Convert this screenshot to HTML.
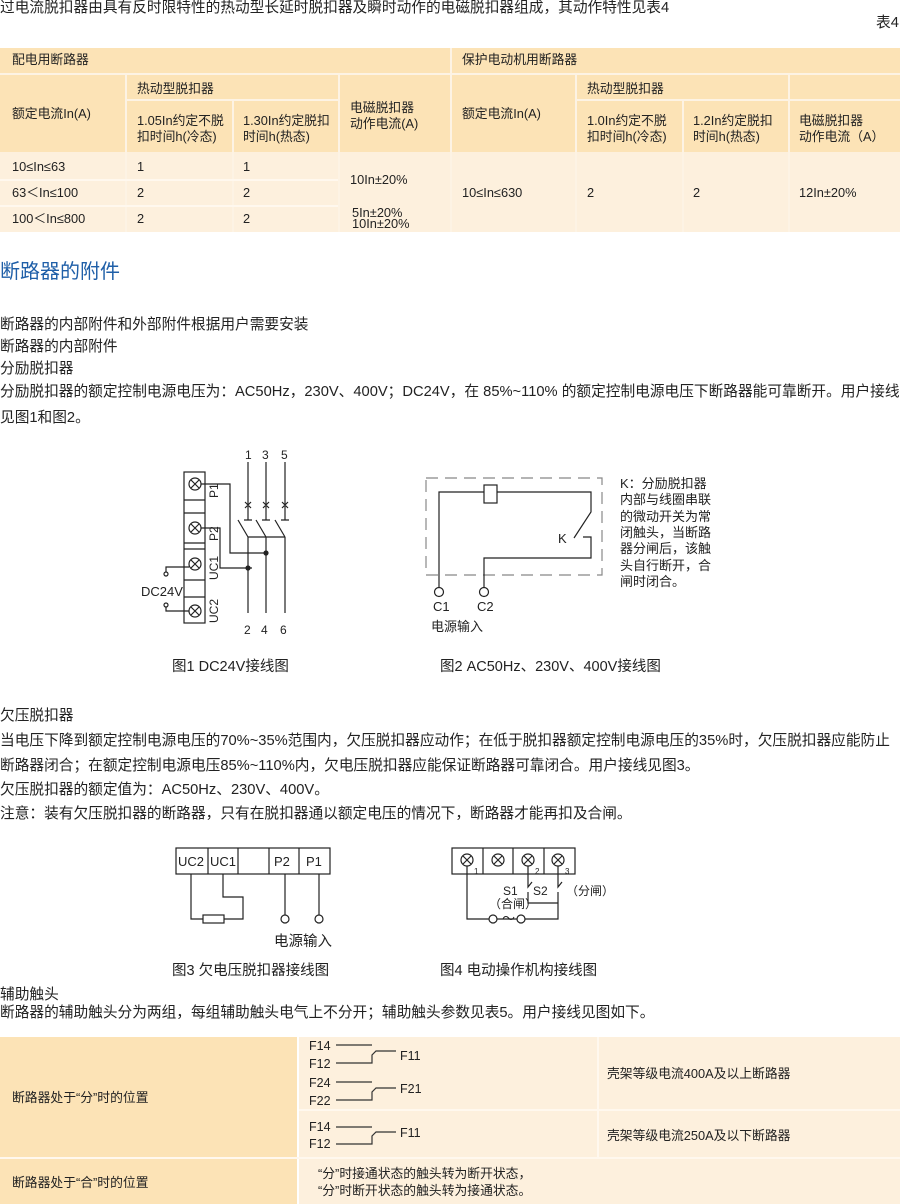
<!DOCTYPE html>
<html><head><meta charset="utf-8"><style>
*{margin:0;padding:0;box-sizing:border-box}
body{width:900px;height:1204px;background:#fff;position:relative;overflow:hidden;font-family:"Liberation Sans","Noto Sans CJK SC",sans-serif;color:#222}
.t{position:absolute;white-space:nowrap;font-size:14.7px;line-height:17px}
.s{font-size:12.8px;line-height:16px}
.b{position:absolute}
.h{background:#fce3b6}
.l{background:#fdf0dd}
</style></head><body>
<div class="t" style="left:0;top:0px">过电流脱扣器由具有反时限特性的热动型长延时脱扣器及瞬时动作的电磁脱扣器组成，其动作特性见表4</div>
<div class="t" style="left:876px;top:15px">表4</div>

<!-- top table -->
<div class="b h" style="left:0;top:48px;width:900px;height:104px"></div>
<div class="b l" style="left:0;top:152px;width:900px;height:80px"></div>
<div class="b" style="left:0;top:73px;width:900px;height:2px;background:#fdf3e4"></div>
<div class="b" style="left:450px;top:48px;width:2px;height:184px;background:#fdf3e4"></div>
<div class="b" style="left:125px;top:73px;width:2px;height:159px;background:#fdf3e4"></div>
<div class="b" style="left:338px;top:73px;width:2px;height:159px;background:#fdf3e4"></div>
<div class="b" style="left:232px;top:100px;width:2px;height:132px;background:#fdf3e4"></div>
<div class="b" style="left:127px;top:99px;width:211px;height:2px;background:#fdf3e4"></div>
<div class="b" style="left:575px;top:73px;width:2px;height:159px;background:#fdf3e4"></div>
<div class="b" style="left:788px;top:73px;width:2px;height:159px;background:#fdf3e4"></div>
<div class="b" style="left:682px;top:100px;width:2px;height:132px;background:#fdf3e4"></div>
<div class="b" style="left:577px;top:99px;width:323px;height:2px;background:#fdf3e4"></div>
<div class="b" style="left:0;top:179px;width:338px;height:2px;background:#fff8ee"></div>
<div class="b" style="left:0;top:205px;width:338px;height:2px;background:#fff8ee"></div>

<div class="t s" style="left:12px;top:52px">配电用断路器</div>
<div class="t s" style="left:462px;top:52px">保护电动机用断路器</div>
<div class="t s" style="left:12px;top:106px">额定电流In(A)</div>
<div class="t s" style="left:137px;top:81px">热动型脱扣器</div>
<div class="t s" style="left:137px;top:113px">1.05In约定不脱<br>扣时间h(冷态)</div>
<div class="t s" style="left:243px;top:113px">1.30In约定脱扣<br>时间h(热态)</div>
<div class="t s" style="left:350px;top:100px">电磁脱扣器<br>动作电流(A)</div>
<div class="t s" style="left:462px;top:106px">额定电流In(A)</div>
<div class="t s" style="left:587px;top:81px">热动型脱扣器</div>
<div class="t s" style="left:587px;top:113px">1.0In约定不脱<br>扣时间h(冷态)</div>
<div class="t s" style="left:693px;top:113px">1.2In约定脱扣<br>时间h(热态)</div>
<div class="t s" style="left:799px;top:113px">电磁脱扣器<br>动作电流（A）</div>
<div class="t s" style="left:12px;top:159px">10≤In≤63</div>
<div class="t s" style="left:137px;top:159px">1</div>
<div class="t s" style="left:243px;top:159px">1</div>
<div class="t s" style="left:12px;top:185px">63＜In≤100</div>
<div class="t s" style="left:137px;top:185px">2</div>
<div class="t s" style="left:243px;top:185px">2</div>
<div class="t s" style="left:12px;top:211px">100＜In≤800</div>
<div class="t s" style="left:137px;top:211px">2</div>
<div class="t s" style="left:243px;top:211px">2</div>
<div class="t s" style="left:350px;top:172px">10In±20%</div>
<div class="t s" style="left:352px;top:207px;line-height:11px">5In±20%<br>10In±20%</div>
<div class="t s" style="left:462px;top:185px">10≤In≤630</div>
<div class="t s" style="left:587px;top:185px">2</div>
<div class="t s" style="left:693px;top:185px">2</div>
<div class="t s" style="left:799px;top:185px">12In±20%</div>

<div class="t" style="left:0;top:261px;font-size:20px;line-height:22px;color:#1f5fa8">断路器的附件</div>
<div class="t" style="left:0;top:317px">断路器的内部附件和外部附件根据用户需要安装</div>
<div class="t" style="left:0;top:339px">断路器的内部附件</div>
<div class="t" style="left:0;top:361px">分励脱扣器</div>
<div class="t" style="left:0;top:384px">分励脱扣器的额定控制电源电压为：AC50Hz，230V、400V；DC24V，在 85%~110% 的额定控制电源电压下断路器能可靠断开。用户接线</div>
<div class="t" style="left:0;top:410px">见图1和图2。</div>

<svg class="b" style="left:0;top:0" width="900" height="1204" font-family="Liberation Sans, Noto Sans CJK SC, sans-serif" fill="none" stroke="#222" stroke-width="1.2">
<!-- fig1 -->
<rect x="184" y="472" width="21" height="151"/>
<line x1="184" y1="500" x2="205" y2="500"/><line x1="184" y1="513" x2="205" y2="513"/>
<line x1="184" y1="543" x2="205" y2="543"/><line x1="184" y1="549" x2="205" y2="549"/>
<line x1="184" y1="580" x2="205" y2="580"/><line x1="184" y1="597" x2="205" y2="597"/>
<g>
<circle cx="195" cy="484" r="6"/><path d="M191 480l8 8M199 480l-8 8"/>
<circle cx="195" cy="528" r="6"/><path d="M191 524l8 8M199 524l-8 8"/>
<circle cx="195" cy="564" r="6"/><path d="M191 560l8 8M199 560l-8 8"/>
<circle cx="195" cy="611" r="6"/><path d="M191 607l8 8M199 607l-8 8"/>
</g>
<g fill="#222" stroke="none" font-size="12">
<text transform="translate(218,498) rotate(-90)">P1</text>
<text transform="translate(218,541) rotate(-90)">P2</text>
<text transform="translate(218,580) rotate(-90)">UC1</text>
<text transform="translate(218,623) rotate(-90)">UC2</text>
<text x="245" y="459">1</text><text x="262" y="459">3</text><text x="281" y="459">5</text>
<text x="244" y="634">2</text><text x="261" y="634">4</text><text x="280" y="634">6</text>
<text x="141" y="596" font-size="13">DC24V</text>
</g>
<path d="M248 462v58M266 462v58M285 462v58"/>
<path d="M245 502l6 6M251 502l-6 6M263 502l6 6M269 502l-6 6M282 502l6 6M288 502l-6 6"/>
<path d="M244 520h8M262 520h8M281 520h8"/>
<path d="M238 520l10 17M256 520l10 17M275 520l10 17M248 537h37M248 537v76M266 537v76M285 537v76"/>
<path d="M201 484h29v69h36M201 528h19v40h32"/>
<circle cx="266" cy="553" r="2" fill="#222"/><circle cx="248" cy="568" r="2" fill="#222"/>
<circle cx="166" cy="574" r="2"/><circle cx="166" cy="605" r="2"/>
<path d="M166 572v-5h23M166 607v4h23"/>
<!-- fig2 -->
<rect x="426" y="478" width="176" height="97" stroke="#888" stroke-dasharray="12,7"/>
<rect x="484" y="485" width="13" height="18" fill="#fff"/>
<path d="M439 588v-96h45M497 492h94v20l-17 26M583 537h8v21h-107v30"/>
<circle cx="439" cy="592" r="4.5" fill="#fff"/><circle cx="484" cy="592" r="4.5" fill="#fff"/>
<g fill="#222" stroke="none" font-size="13">
<text x="558" y="543">K</text>
<text x="433" y="611">C1</text><text x="477" y="611">C2</text>
<text x="431" y="631">电源输入</text>
<text x="620" y="488">K：分励脱扣器</text>
<text x="620" y="504">内部与线圈串联</text>
<text x="620" y="521">的微动开关为常</text>
<text x="620" y="537">闭触头，当断路</text>
<text x="620" y="553">器分闸后，该触</text>
<text x="620" y="570">头自行断开，合</text>
<text x="620" y="586">闸时闭合。</text>
<text x="172" y="671" font-size="14.5">图1 DC24V接线图</text>
<text x="440" y="671" font-size="14.5">图2 AC50Hz、230V、400V接线图</text>
</g>
<!-- fig3 -->
<rect x="176" y="848" width="154" height="26"/>
<path d="M208 848v26M238 848v26M269 848v26M299 848v26"/>
<path d="M191 874v45h12M224 919h19v-22h-20v-23"/>
<rect x="203" y="915" width="21" height="8"/>
<path d="M285 874v41M319 874v41"/>
<circle cx="285" cy="919" r="4" fill="#fff"/><circle cx="319" cy="919" r="4" fill="#fff"/>
<g fill="#222" stroke="none" font-size="13">
<text x="178" y="866">UC2</text><text x="210" y="866">UC1</text><text x="274" y="866">P2</text><text x="306" y="866">P1</text>
<text x="274" y="946" font-size="14.5">电源输入</text>
<text x="172" y="975" font-size="14.5">图3 欠电压脱扣器接线图</text>
<text x="440" y="975" font-size="14.5">图4 电动操作机构接线图</text>
</g>
<!-- fig4 -->
<rect x="452" y="848" width="123" height="26"/>
<path d="M483 848v26M513 848v26M544 848v26"/>
<g>
<circle cx="467" cy="860" r="6"/><path d="M463 856l8 8M471 856l-8 8"/>
<circle cx="498" cy="860" r="6"/><path d="M494 856l8 8M502 856l-8 8"/>
<circle cx="528" cy="860" r="6"/><path d="M524 856l8 8M532 856l-8 8"/>
<circle cx="558" cy="860" r="6"/><path d="M554 856l8 8M562 856l-8 8"/>
</g>
<path d="M467 866v53h22M497 919h20M525 919h33v-27M528 866v21l4 -5M528 892v11h30M558 866v21l4 -5"/>
<circle cx="493" cy="919" r="4"/><circle cx="521" cy="919" r="4"/>
<g fill="#222" stroke="none" font-size="12">
<text x="474" y="874" font-size="8">1</text><text x="535" y="874" font-size="8">2</text><text x="565" y="874" font-size="8">3</text>
<text x="503" y="895">S1</text><text x="533" y="895">S2</text><text x="566" y="895">（分闸）</text>
<text x="489" y="908">（合闸）</text>
<text x="502" y="923" font-size="13">～</text>
</g>
</svg>

<div class="t" style="left:0;top:708px">欠压脱扣器</div>
<div class="t" style="left:0;top:733px">当电压下降到额定控制电源电压的70%~35%范围内，欠压脱扣器应动作；在低于脱扣器额定控制电源电压的35%时，欠压脱扣器应能防止</div>
<div class="t" style="left:0;top:758px">断路器闭合；在额定控制电源电压85%~110%内，欠电压脱扣器应能保证断路器可靠闭合。用户接线见图3。</div>
<div class="t" style="left:0;top:782px">欠压脱扣器的额定值为：AC50Hz、230V、400V。</div>
<div class="t" style="left:0;top:806px">注意：装有欠压脱扣器的断路器，只有在脱扣器通以额定电压的情况下，断路器才能再扣及合闸。</div>
<div class="t" style="left:0;top:987px">辅助触头</div>
<div class="t" style="left:0;top:1005px">断路器的辅助触头分为两组，每组辅助触头电气上不分开；辅助触头参数见表5。用户接线见图如下。</div>

<!-- bottom table -->
<div class="b h" style="left:0;top:1037px;width:297px;height:167px"></div>
<div class="b l" style="left:299px;top:1037px;width:601px;height:167px"></div>
<div class="b" style="left:0;top:1157px;width:900px;height:2px;background:#fff8ee"></div>
<div class="b" style="left:299px;top:1109px;width:601px;height:2px;background:#fff8ee"></div>
<div class="b" style="left:597px;top:1037px;width:2px;height:120px;background:#fff8ee"></div>
<div class="t s" style="left:12px;top:1090px">断路器处于“分”时的位置</div>
<div class="t s" style="left:12px;top:1175px">断路器处于“合”时的位置</div>
<div class="t s" style="left:607px;top:1066px">壳架等级电流400A及以上断路器</div>
<div class="t s" style="left:607px;top:1128px">壳架等级电流250A及以下断路器</div>
<div class="t s" style="left:318px;top:1165px;line-height:17px">“分”时接通状态的触头转为断开状态，<br>“分”时断开状态的触头转为接通状态。</div>
<svg class="b" style="left:0;top:0" width="900" height="1204" font-family="Liberation Sans, sans-serif" fill="none" stroke="#333" stroke-width="1.2">
<g fill="#222" stroke="none" font-size="12.5">
<text x="309" y="1050">F14</text><text x="309" y="1068">F12</text><text x="400" y="1060">F11</text>
<text x="309" y="1087">F24</text><text x="309" y="1105">F22</text><text x="400" y="1093">F21</text>
<text x="309" y="1131">F14</text><text x="309" y="1148">F12</text><text x="400" y="1137">F11</text>
</g>
<path d="M336 1045h36M336 1063h36v-8l4-4h20M336 1082h36M336 1100h36v-8l4-4h20M336 1127h36M336 1144h36v-8l4-4h20"/>
</svg>
</body></html>
